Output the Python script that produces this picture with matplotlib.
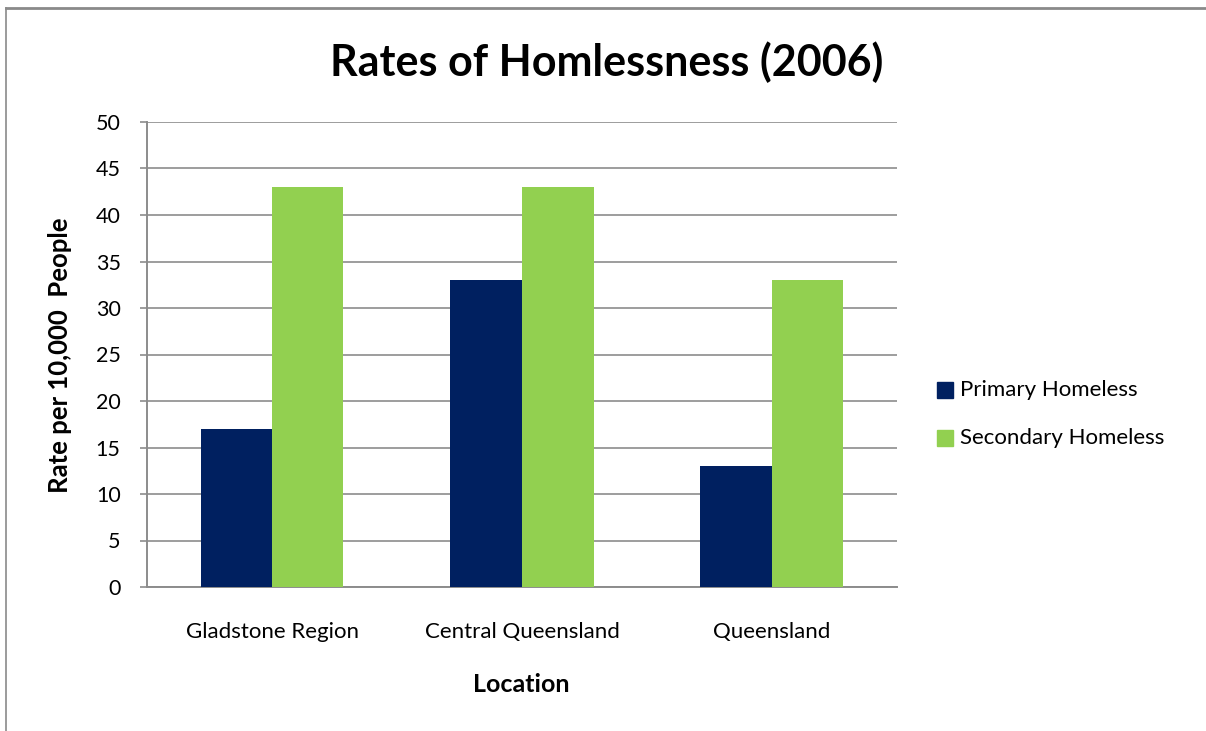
import matplotlib
matplotlib.use("Agg")
import matplotlib.pyplot as plt
from matplotlib.patches import Rectangle
from matplotlib.lines import Line2D
import numpy as np

# Data
locations = ["Gladstone Region", "Central Queensland", "Queensland"]
primary_homeless = [17, 33, 13]
secondary_homeless = [43, 43, 33]
series_names = ["Primary Homeless", "Secondary Homeless"]
y_ticks = [0, 5, 10, 15, 20, 25, 30, 35, 40, 45, 50]

navy = "#002060"
green = "#92D050"
grid_gray = "#8C8C8C"
font = "Lato"

W, H = 1206, 731
fig = plt.figure(figsize=(W / 100, H / 100), dpi=100)
fig.patch.set_facecolor("white")

# Chart frame (open at right and bottom)
fig.add_artist(Line2D([6 / W, 1.0], [1 - 8 / H, 1 - 8 / H], transform=fig.transFigure,
                      color="#8a8a8a", lw=2.0))
fig.add_artist(Line2D([6 / W, 6 / W], [0.0, 1 - 8 / H], transform=fig.transFigure,
                      color="#8a8a8a", lw=1.2))

left, right, top, bottom = 147, 897, 122, 587
ax = fig.add_axes([left / W, 1 - bottom / H, (right - left) / W, (bottom - top) / H])

x = np.arange(len(locations))
bw = 0.286
ax.bar(x - bw / 2, primary_homeless, bw, color=navy, label=series_names[0], zorder=3)
ax.bar(x + bw / 2, secondary_homeless, bw, color=green, label=series_names[1], zorder=3)

ax.set_xlim(-0.5, len(locations) - 0.5)
ax.set_ylim(0, 50)
ax.set_yticks(y_ticks)
ax.set_yticklabels([str(v) for v in y_ticks], fontsize=15.5, family=font)
ax.set_xticks(x)
ax.set_xticklabels(locations, fontsize=16, family=font)
ax.tick_params(axis="x", length=0, pad=25)
ax.tick_params(axis="y", length=5, width=1.2, color=grid_gray, pad=14, direction="out")

ax.yaxis.grid(True, color=grid_gray, lw=1.2, zorder=0)
ax.set_axisbelow(True)
for s in ["top", "right"]:
    ax.spines[s].set_visible(False)
for s in ["left", "bottom"]:
    ax.spines[s].set_color(grid_gray)
    ax.spines[s].set_linewidth(1.4)

fig.text(607 / W, 1 - 62 / H, "Rates of Homlessness (2006)", ha="center", va="center",
         fontsize=31, fontweight="bold", family=font)
fig.text(60 / W, 1 - 355 / H, "Rate per 10,000  People", rotation=90, ha="center", va="center",
         fontsize=18.5, fontweight="bold", family=font)
fig.text(521 / W, 1 - 685 / H, "Location", ha="center", va="center",
         fontsize=18, fontweight="bold", family=font)

# Legend
for name, col, yc in [(series_names[0], navy, 390), (series_names[1], green, 438)]:
    fig.add_artist(Rectangle((937 / W, 1 - (yc + 8) / H), 16 / W, 16 / H,
                             transform=fig.transFigure, color=col))
    fig.text(960 / W, 1 - yc / H, name, ha="left", va="center", fontsize=16, family=font)

fig.savefig("out.png", dpi=100)
